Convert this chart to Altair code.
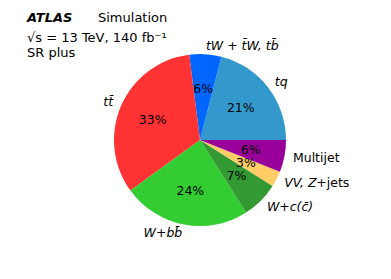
import altair as alt
import pandas as pd

# Data (matplotlib order: counter-clockwise from 3 o'clock)
labels = ["tq", "tW + t̄W, tb̄", "tt̄", "W+bb̄", "W+c(c̄)", "VV, Z", "Multijet"]
values = [21, 6, 33, 24, 7, 3, 6]
pcts = ["21%", "6%", "33%", "24%", "7%", "3%", "6%"]
colors = ["#3399CC", "#0066FF", "#FF3333", "#33CC33", "#339933", "#FFCC66", "#990099"]
sides = ["L", "L", "R", "R", "L", "L", "L"]       # text alignment: L=left, R=right
styles = ["italic", "italic", "italic", "italic", "italic", "italic", "normal"]
suffix = ["", "", "", "", "", "+jets", ""]

n = len(labels)
df = pd.DataFrame({
    "label": labels, "value": values, "pct": pcts, "side": sides,
    "style": styles, "suffix": suffix,
    # Vega draws clockwise from 12 o'clock -> reverse order, start at 3 o'clock
    "rank": list(range(n, 0, -1)),
})

R = 86
CX, CY = 192, 132
FONT = "DejaVu Sans"

theta = alt.Theta("value:Q", stack=True,
                  scale=alt.Scale(range=[1.5707963, 1.5707963 + 6.2831853]))
order = alt.Order("rank:Q", sort="ascending")

base = alt.Chart(df).encode(theta=theta, order=order,
                            x=alt.value(CX), y=alt.value(CY))

arc = base.mark_arc(outerRadius=R, stroke=None).encode(
    color=alt.Color("label:N", scale=alt.Scale(domain=labels, range=colors), legend=None)
)

pct = base.mark_text(radius=R * 0.6, font=FONT, fontSize=12.5, color="black",
                     align="center", baseline="middle").encode(text="pct:N")

lab_it_left = base.mark_text(radius=R * 1.1, font=FONT, fontSize=12.5, fontStyle="italic",
                             align="left", baseline="middle", color="black").encode(
    text=alt.condition((alt.datum.side == "L") & (alt.datum.style == "italic"),
                       alt.Text("label:N"), alt.value("")))

lab_it_right = base.mark_text(radius=R * 1.1, font=FONT, fontSize=12.5, fontStyle="italic",
                              align="right", baseline="middle", color="black").encode(
    text=alt.condition((alt.datum.side == "R") & (alt.datum.style == "italic"),
                       alt.Text("label:N"), alt.value("")))

lab_norm_left = base.mark_text(radius=R * 1.1, font=FONT, fontSize=12.5,
                               align="left", baseline="middle", color="black").encode(
    text=alt.condition((alt.datum.side == "L") & (alt.datum.style == "normal"),
                       alt.Text("label:N"), alt.value("")))

lab_suffix = base.mark_text(radius=R * 1.1, font=FONT, fontSize=12.5, dx=32,
                            align="left", baseline="middle", color="black").encode(
    text=alt.Text("suffix:N"))

# Header annotation
hdr = pd.DataFrame({"t": ["x"]})
def htext(txt, x, y, **kw):
    return alt.Chart(hdr).mark_text(font=FONT, fontSize=13, align="left",
                                    baseline="alphabetic", color="black", **kw).encode(
        x=alt.value(x), y=alt.value(y), text=alt.value(txt))

atlas = htext("ATLAS", 19, 14, fontWeight="bold", fontStyle="italic")
sim = htext("Simulation", 90, 14)
sq = htext("√s =  13 TeV, 140 fb⁻¹", 19, 34)
sr = htext("SR plus", 19, 49)

chart = alt.layer(arc, pct, lab_it_left, lab_it_right, lab_norm_left, lab_suffix,
                  atlas, sim, sq, sr).properties(
    width=375, height=263, padding=0
).configure_view(stroke=None)

chart.save("out.html", embed_options={"renderer": "svg", "actions": False})
